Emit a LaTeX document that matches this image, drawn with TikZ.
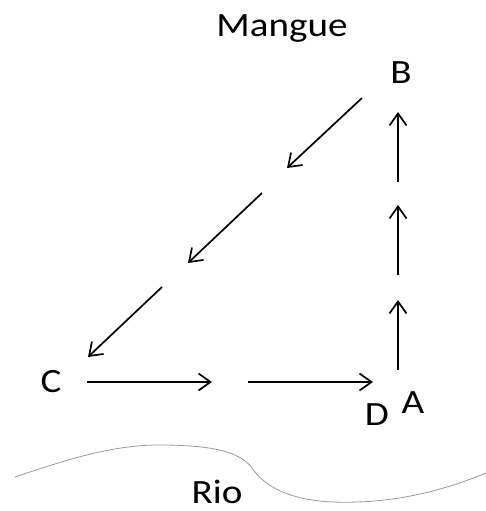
\documentclass[tikz,border=0pt]{standalone}
\usepackage{fontspec}
\setmainfont{Carlito}[FakeStretch=1.15]
\usetikzlibrary{arrows.meta}
\tikzset{
  lbl/.style={anchor=base, inner sep=0pt, font=\fontsize{34}{40}\selectfont},
  arr/.style={line width=1.7pt, -{Straight Barb[length=12pt,width=17pt,line width=1.7pt]}},
  river/.style={draw=gray!80, line width=0.8pt}
}
\begin{document}
\begin{tikzpicture}[x=1pt,y=-1pt]
\useasboundingbox (0,0) rectangle (486,511);
\node[lbl] (mangue) at (282,37) {Mangue};
\node[lbl] (B) at (401,84) {B};
\node[lbl] (C) at (51,392) {C};
\node[lbl] (D) at (377,425) {D};
\node[lbl] (A) at (413,413) {A};
\node[lbl] (rio) at (217,503) {Rio};
% diagonal arrows
\coordinate (d1s) at (362,98);  \coordinate (d1e) at (287,168);
\coordinate (d2s) at (262,193); \coordinate (d2e) at (188,263);
\coordinate (d3s) at (162,287); \coordinate (d3e) at (88,357);
\draw[arr] (d1s) -- (d1e);
\draw[arr] (d2s) -- (d2e);
\draw[arr] (d3s) -- (d3e);
% horizontal arrows
\coordinate (h1s) at (87,382);  \coordinate (h1e) at (212,382);
\coordinate (h2s) at (248,382); \coordinate (h2e) at (373,382);
\draw[arr] (h1s) -- (h1e);
\draw[arr] (h2s) -- (h2e);
% vertical arrows
\coordinate (v1s) at (398,370); \coordinate (v1e) at (398,300);
\coordinate (v2s) at (398,275); \coordinate (v2e) at (398,205);
\coordinate (v3s) at (398,182); \coordinate (v3e) at (398,112);
\draw[arr] (v1s) -- (v1e);
\draw[arr] (v2s) -- (v2e);
\draw[arr] (v3s) -- (v3e);
% river
\draw[river] (15,477) .. controls (80,455) and (120,444) .. (167,445)
  .. controls (215,446) and (240,452) .. (252,468)
  .. controls (265,487) and (290,500) .. (333,502)
  .. controls (390,504) and (440,492) .. (486,473);
\end{tikzpicture}
\end{document}
